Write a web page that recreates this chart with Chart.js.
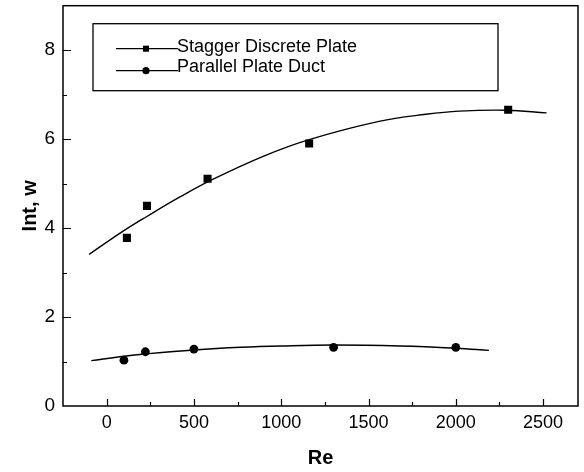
<!DOCTYPE html>
<html>
<head>
<meta charset="utf-8">
<script src="https://cdn.jsdelivr.net/npm/chart.js@4.4.1/dist/chart.umd.min.js"></script>
<style>
  html, body { margin: 0; padding: 0; background: #fff; }
  #wrap { width: 584px; height: 472px; }
</style>
</head>
<body>
<div id="wrap"><canvas id="intChart" width="584" height="472"></canvas></div>
<script>
// measured points
const staggerRe = [116, 231, 578, 1160, 2300];
const staggerInt = [3.78, 4.50, 5.11, 5.90, 6.66];
const parallelRe = [99, 222, 500, 1300, 2000];
const parallelInt = [1.03, 1.22, 1.28, 1.32, 1.32];

// fitted trend curves
const staggerFitRe = [-100, 90, 230, 420, 610, 900, 1160, 1560, 1830, 2020, 2290, 2520];
const staggerFitInt = [3.41, 3.92, 4.26, 4.70, 5.10, 5.62, 5.99, 6.40, 6.56, 6.63, 6.65, 6.59];
const parallelFitRe = [-88, 100, 220, 500, 770, 1000, 1300, 1680, 2000, 2190];
const parallelFitInt = [1.02, 1.12, 1.17, 1.26, 1.32, 1.35, 1.37, 1.35, 1.30, 1.25];

// axis ticks (every other one is labelled)
const reTicks = [0, 250, 500, 750, 1000, 1250, 1500, 1750, 2000, 2250, 2500];
const intTicks = [1, 2, 3, 4, 5, 6, 7, 8];
const reLabels = ['0', '', '500', '', '1000', '', '1500', '', '2000', '', '2500'];
const intLabels = ['', '2', '', '4', '', '6', '', '8'];

const seriesNames = ['Stagger Discrete Plate', 'Parallel Plate Duct'];
const xTitle = 'Re';
const yTitle = 'Int, w';

const FONT = '"Liberation Sans", Arial, sans-serif';

const toPoints = (xs, ys) => xs.map((v, i) => ({ x: v, y: ys[i] }));

// frame round the plot area with inward tick marks
const frameAndTicks = {
  id: 'frameAndTicks',
  afterDraw(chart) {
    const { ctx, chartArea: a, scales: { x, y } } = chart;
    ctx.save();
    ctx.strokeStyle = '#000';
    ctx.lineWidth = 1.5;
    ctx.strokeRect(a.left, a.top, a.right - a.left, a.bottom - a.top);
    ctx.lineWidth = 1.2;
    ctx.beginPath();
    reTicks.forEach((v, i) => {
      const px = Math.round(x.getPixelForValue(v)) + 0.5;
      const len = reLabels[i] ? 7 : 4;
      ctx.moveTo(px, a.bottom);
      ctx.lineTo(px, a.bottom - len);
    });
    intTicks.forEach((v, i) => {
      const py = Math.round(y.getPixelForValue(v)) + 0.5;
      const len = intLabels[i] ? 8 : 4;
      ctx.moveTo(a.left, py);
      ctx.lineTo(a.left + len, py);
    });
    ctx.stroke();
    ctx.restore();
  }
};

// boxed legend: short line with the series marker, then its name
const boxLegend = {
  id: 'boxLegend',
  afterDraw(chart) {
    const { ctx, chartArea: a } = chart;
    const left = a.left + 30, top = a.top + 18, w = 405, h = 67;
    ctx.save();
    ctx.strokeStyle = '#000';
    ctx.fillStyle = '#000';
    ctx.lineWidth = 1.3;
    ctx.strokeRect(left, top, w, h);
    const rows = [
      { ds: chart.data.datasets[0], dy: 25, ty: 28, radius: 4.3 },
      { ds: chart.data.datasets[1], dy: 47, ty: 48, radius: 3.6 }
    ];
    rows.forEach(r => {
      const ly = top + r.dy;
      ctx.lineWidth = 1.3;
      ctx.beginPath();
      ctx.moveTo(left + 23, ly);
      ctx.lineTo(left + 85, ly);
      ctx.stroke();
      Chart.helpers.drawPoint(ctx, { pointStyle: r.ds.pointStyle, radius: r.radius, rotation: 0, borderWidth: 0 }, left + 53, ly);
      ctx.font = '18px ' + FONT;
      ctx.textBaseline = 'alphabetic';
      ctx.textAlign = 'left';
      ctx.fillText(r.ds.label, left + 84, top + r.ty);
    });
    ctx.restore();
  }
};

new Chart(document.getElementById('intChart'), {
  type: 'scatter',
  data: {
    datasets: [
      {
        label: seriesNames[0],
        data: toPoints(staggerRe, staggerInt),
        pointStyle: 'rect',
        pointRadius: 5.7,
        backgroundColor: '#000',
        borderWidth: 0,
        showLine: false
      },
      {
        label: seriesNames[1],
        data: toPoints(parallelRe, parallelInt),
        pointStyle: 'circle',
        pointRadius: 4.4,
        backgroundColor: '#000',
        borderWidth: 0,
        showLine: false
      },
      {
        label: seriesNames[0] + ' fit',
        data: toPoints(staggerFitRe, staggerFitInt),
        showLine: true,
        pointRadius: 0,
        borderColor: '#000',
        borderWidth: 1.4,
        tension: 0.4
      },
      {
        label: seriesNames[1] + ' fit',
        data: toPoints(parallelFitRe, parallelFitInt),
        showLine: true,
        pointRadius: 0,
        borderColor: '#000',
        borderWidth: 1.4,
        tension: 0.4
      }
    ]
  },
  options: {
    responsive: false,
    animation: false,
    layout: { padding: { top: 5, right: 6, left: 0, bottom: 0 } },
    plugins: {
      legend: { display: false },
      tooltip: { enabled: false }
    },
    scales: {
      x: {
        type: 'linear',
        min: -250,
        max: 2700,
        grid: { display: false, drawTicks: false },
        border: { display: false },
        afterBuildTicks: s => { s.ticks = reTicks.map(v => ({ value: v })); },
        ticks: {
          autoSkip: false,
          maxRotation: 0,
          minRotation: 0,
          padding: 6,
          color: '#000',
          font: { family: FONT, size: 18 },
          callback: (v, i) => reLabels[i]
        },
        title: {
          display: true,
          text: xTitle,
          color: '#000',
          font: { family: FONT, size: 20, weight: 'bold' },
          padding: { top: 0, bottom: 2 }
        },
        afterFit: s => { s.height = 66; s.paddingLeft = 0; s.paddingRight = 0; }
      },
      y: {
        type: 'linear',
        min: 0,
        max: 9,
        grid: { display: false, drawTicks: false },
        border: { display: false },
        afterBuildTicks: s => { s.ticks = [0].concat(intTicks).map(v => ({ value: v })); },
        ticks: {
          autoSkip: false,
          padding: 8,
          color: '#000',
          font: { family: FONT, size: 19 },
          callback: (v, i) => (i === 0 ? '0' : intLabels[i - 1])
        },
        title: {
          display: true,
          text: yTitle,
          color: '#000',
          font: { family: FONT, size: 20, weight: 'bold' },
          padding: { top: 18, bottom: 0 }
        },
        afterFit: s => { s.width = 63; s.paddingTop = 0; s.paddingBottom = 0; }
      }
    }
  },
  plugins: [frameAndTicks, boxLegend]
});
</script>
</body>
</html>
